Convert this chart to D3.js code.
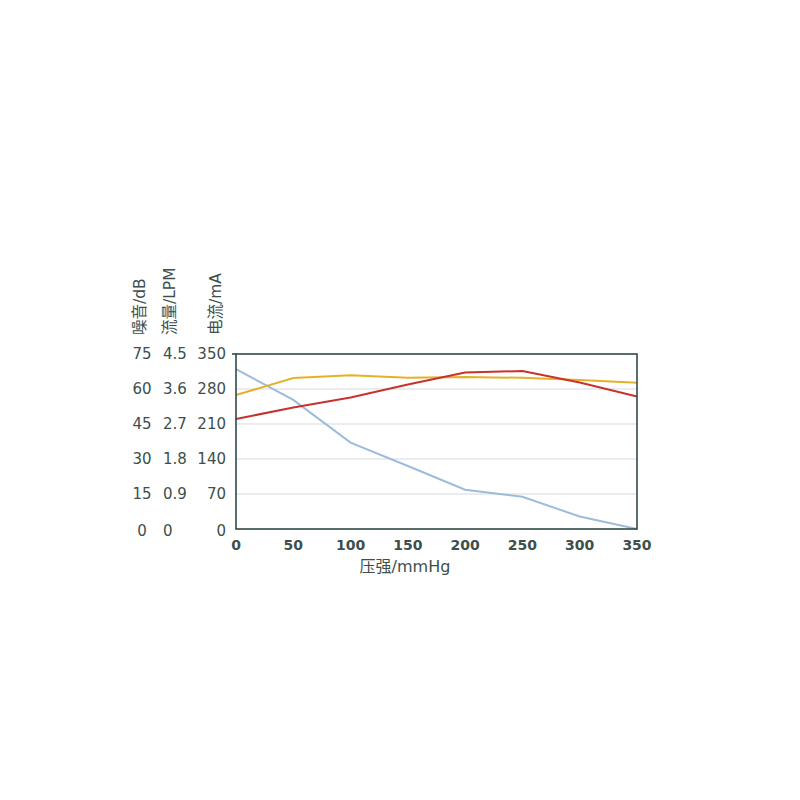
<!DOCTYPE html>
<html><head><meta charset="utf-8">
<script src="https://cdn.jsdelivr.net/npm/d3@7"></script>
<style>body{margin:0;background:#fff}</style>
</head><body>
<svg id="c" width="800" height="800"></svg>
<script>
const pressure = [0, 50, 100, 150, 200, 250, 300, 350];
const flowLPM = [4.11, 3.32, 2.22, 1.62, 1.01, 0.83, 0.32, 0];
const noiseDB = [57.4, 64.7, 65.9, 64.8, 65.1, 64.8, 63.9, 62.7];
const currentMA = [220, 243, 263, 289, 313, 316, 293, 265];
const dbTicks = [0, 15, 30, 45, 60, 75];
const lpmTicks = [0, 0.9, 1.8, 2.7, 3.6, 4.5];
const maTicks = [0, 70, 140, 210, 280, 350];
const xTicks = [0, 50, 100, 150, 200, 250, 300, 350];

const svg = d3.select("#c");
const L = 236, R = 637, T = 354, B = 529;
const x = d3.scaleLinear().domain([0, 350]).range([L, R]);
const yDB = d3.scaleLinear().domain([0, 75]).range([B, T]);
const yLPM = d3.scaleLinear().domain([0, 4.5]).range([B, T]);
const yMA = d3.scaleLinear().domain([0, 350]).range([B, T]);
const txt = "#3d4f4c", frame = "#2e4a47";
const font = "'DejaVu Sans', 'Noto Sans CJK SC', sans-serif";

// grid
svg.append("g").selectAll("line").data(maTicks.filter(d => d > 0 && d < 350)).join("line")
  .attr("x1", L).attr("x2", R).attr("y1", d => yMA(d)).attr("y2", d => yMA(d))
  .attr("stroke", "#d6d9dc").attr("stroke-width", 1.2);

// lines
const series = [
  {v: flowLPM, y: yLPM, c: "#9dbcdc"},
  {v: noiseDB, y: yDB, c: "#e6b12a"},
  {v: currentMA, y: yMA, c: "#c8322e"}
];
series.forEach(s => {
  svg.append("path").datum(pressure.map((p, i) => [p, s.v[i]]))
    .attr("fill", "none").attr("stroke", s.c).attr("stroke-width", 2)
    .attr("d", d3.line().x(d => x(d[0])).y(d => s.y(d[1])));
});

// frame
svg.append("rect").attr("x", L).attr("y", T).attr("width", R - L).attr("height", B - T)
  .attr("fill", "none").attr("stroke", frame).attr("stroke-width", 1.6);
svg.append("line").attr("x1", L - 4).attr("x2", L).attr("y1", T).attr("y2", T)
  .attr("stroke", frame).attr("stroke-width", 1.6);

// y tick labels
const g = svg.append("g").attr("font-family", font).attr("font-size", 15).attr("fill", txt);
g.selectAll(".db").data(dbTicks).join("text")
  .attr("x", 142).attr("y", d => yDB(d) + (d === 0 ? 2 : 0)).attr("dy", "0.35em")
  .attr("text-anchor", "middle").text(d => d);
g.selectAll(".lpm").data(lpmTicks).join("text")
  .attr("x", 163).attr("y", d => yLPM(d) + (d === 0 ? 2 : 0)).attr("dy", "0.35em")
  .attr("text-anchor", "start").text(d => d);
g.selectAll(".ma").data(maTicks).join("text")
  .attr("x", 226).attr("y", d => yMA(d) + (d === 0 ? 2 : 0)).attr("dy", "0.35em")
  .attr("text-anchor", "end").text(d => d);

// axis titles (rotated)
const titles = [{t: "噪音/dB", x: 145}, {t: "流量/LPM", x: 175}, {t: "电流/mA", x: 221}];
svg.append("g").selectAll("text").data(titles).join("text")
  .attr("transform", d => `translate(${d.x},335) rotate(-90)`)
  .attr("font-family", font).attr("font-size", 15.5).attr("fill", txt)
  .attr("text-anchor", "start").text(d => d.t);

// x tick labels
svg.append("g").selectAll("text").data(xTicks).join("text")
  .attr("x", d => x(d)).attr("y", 550).attr("text-anchor", "middle")
  .attr("font-family", font).attr("font-size", 14).attr("font-weight", "bold")
  .attr("fill", txt).text(d => d);

svg.append("text").attr("x", 405).attr("y", 572).attr("text-anchor", "middle")
  .attr("font-family", font).attr("font-size", 16).attr("fill", txt).text("压强/mmHg");
</script>
</body></html>
